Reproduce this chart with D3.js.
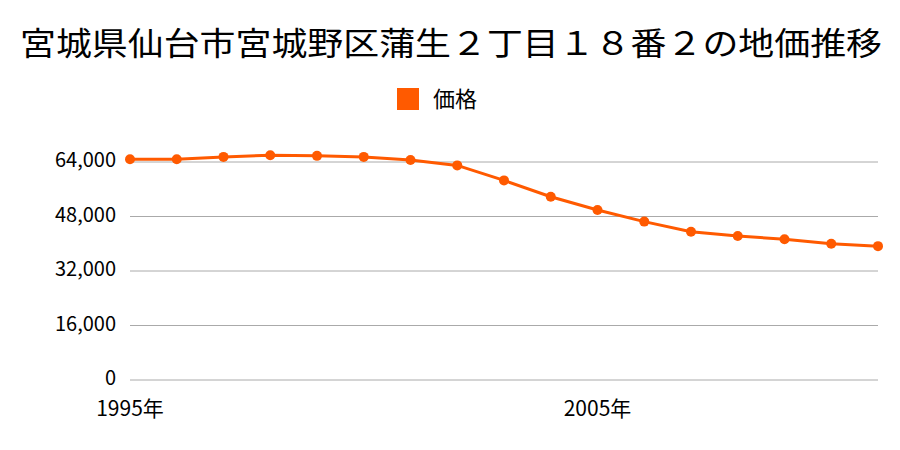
<!DOCTYPE html>
<html><head><meta charset="utf-8">
<script src="https://cdn.jsdelivr.net/npm/d3@7"></script>
<style>body{margin:0;background:#fff}svg{display:block}text{font-family:"Noto Sans CJK JP","Noto Sans",sans-serif;fill:#000}</style>
</head><body><svg id="c" width="900" height="450"></svg>
<script>
const years = [1995,1996,1997,1998,1999,2000,2001,2002,2003,2004,2005,2006,2007,2008,2009,2010,2011];
const prices = [64800,64800,65500,66000,65800,65500,64600,63000,58600,53800,49900,46500,43500,42300,41300,40000,39300];
const yTicks = [0,16000,32000,48000,64000];
const xLabels = [1995,2005];
const title = "宮城県仙台市宮城野区蒲生２丁目１８番２の地価推移";
const seriesName = "価格";
const color = "#ff5a00";

const svg = d3.select("#c");
const x = d3.scaleLinear().domain([1995,2011]).range([130,878]);
const y = d3.scaleLinear().domain([0,64000]).range([380,162]);

svg.append("text").attr("x",451).attr("y",55).attr("text-anchor","middle")
  .attr("font-size",32).attr("textLength",862).attr("lengthAdjust","spacingAndGlyphs").text(title);

svg.append("rect").attr("x",397).attr("y",88).attr("width",22).attr("height",22).attr("fill",color);
svg.append("text").attr("x",433).attr("y",107).attr("font-size",22).text(seriesName);

const grid = svg.append("g");
grid.selectAll("line").data(yTicks).join("line")
  .attr("x1",130).attr("x2",878).attr("y1",d=>y(d)).attr("y2",d=>y(d))
  .attr("stroke","#aaa").attr("stroke-width",1);
grid.selectAll("text").data(yTicks).join("text")
  .attr("x",116).attr("y",d=>y(d)+5).attr("text-anchor","end").attr("font-size",20)
  .text(d=>d3.format(",")(d));

svg.append("g").selectAll("text").data(xLabels).join("text")
  .attr("x",d=>x(d)).attr("y",415.5).attr("text-anchor","middle").attr("font-size",21)
  .text(d=>d+"年");

const line = d3.line().x((d,i)=>x(years[i])).y(d=>y(d));
svg.append("path").datum(prices).attr("d",line).attr("fill","none").attr("stroke",color).attr("stroke-width",3);
svg.append("g").selectAll("circle").data(prices).join("circle")
  .attr("cx",(d,i)=>x(years[i])).attr("cy",d=>y(d)).attr("r",5).attr("fill",color);
</script></body></html>
